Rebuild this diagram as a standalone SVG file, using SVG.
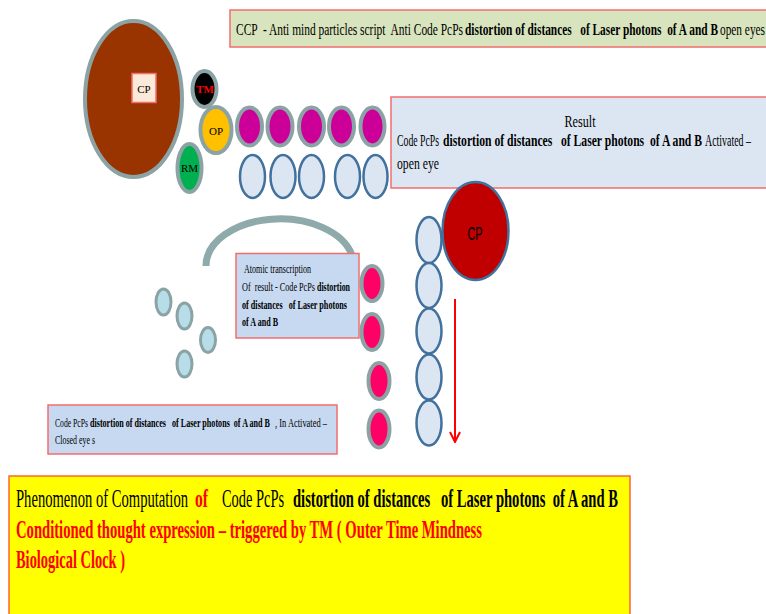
<svg xmlns="http://www.w3.org/2000/svg" width="766" height="614" viewBox="0 0 766 614">
<defs>
<style>
.t{font-family:"Liberation Serif","Times New Roman",serif;fill:#000;white-space:pre}
.b{font-weight:bold}
.red{fill:#ff0000}
.box{stroke:#f26d6d;stroke-width:1.5}
.gray{stroke:#8ca3a5;stroke-width:4}
.blue{fill:#dce6f2;stroke:#41719c;stroke-width:2.5}
.mag{fill:#cc0099;stroke:#8ca3a5;stroke-width:4}
.pink{fill:#ff0066;stroke:#8ca3a5;stroke-width:4}
.teal{fill:#b7dee8;stroke:#8ca3a5;stroke-width:3}
</style>
<marker id="arr" markerWidth="14" markerHeight="12" refX="13" refY="6" orient="auto" markerUnits="userSpaceOnUse" viewBox="0 0 14 12">
<path d="M3,1 L13,6 L3,11" fill="none" stroke="#ff0000" stroke-width="2"/>
</marker>
</defs>
<rect width="766" height="614" fill="#ffffff"/>

<g id="connectors">
<path d="M206,266 A74,47 0 0 1 352,255" fill="none" stroke="#8faaab" stroke-width="7"/>
<line x1="455" y1="299" x2="455" y2="442" stroke="#ff0000" stroke-width="2" marker-end="url(#arr)"/>
</g>

<g id="ccp-box">
<rect class="box" x="230" y="10" width="545" height="37" fill="#d7e4bd"/>
<text class="t" x="236" y="35" font-size="16.5" textLength="227" lengthAdjust="spacingAndGlyphs">CCP  - Anti mind particles script  Anti Code PcPs</text>
<text class="t b" x="465" y="35" font-size="16.5" textLength="253" lengthAdjust="spacingAndGlyphs">distortion of distances   of Laser photons  of A and B</text>
<text class="t" x="720" y="35" font-size="16.5" textLength="45" lengthAdjust="spacingAndGlyphs">open eyes</text>
</g>

<g id="cp-big">
<ellipse class="gray" cx="133.5" cy="99" rx="48.5" ry="78" fill="#993300"/>
<rect x="132" y="73.5" width="24" height="29" fill="#fde9d9" stroke="#f26d6d" stroke-width="1.5"/>
<text class="t" x="144" y="93" font-size="11" text-anchor="middle">CP</text>
</g>

<g id="tm">
<ellipse class="gray" cx="204.5" cy="89" rx="12" ry="18" fill="#000000"/>
<text class="t b red" x="205" y="93" font-size="11" text-anchor="middle">TM</text>
</g>

<g id="op">
<ellipse class="gray" cx="216" cy="130" rx="15.5" ry="23" fill="#ffc000"/>
<text class="t" x="216" y="135" font-size="11" text-anchor="middle">OP</text>
</g>

<g id="rm">
<ellipse class="gray" cx="189.5" cy="168" rx="12" ry="24" fill="#00b050"/>
<text class="t" x="189.5" y="172" font-size="11" text-anchor="middle">RM</text>
</g>

<g id="magenta-row">
<ellipse class="mag" cx="249.5" cy="126.5" rx="12.5" ry="19"/>
<ellipse class="mag" cx="280" cy="126.5" rx="12.5" ry="19"/>
<ellipse class="mag" cx="311.5" cy="126.5" rx="12.5" ry="19"/>
<ellipse class="mag" cx="341.5" cy="126.5" rx="12.5" ry="19"/>
<ellipse class="mag" cx="372.5" cy="126.5" rx="12" ry="19"/>
</g>

<g id="blue-row">
<ellipse class="blue" cx="252.5" cy="176.5" rx="12.5" ry="21.5"/>
<ellipse class="blue" cx="283" cy="176.5" rx="12.5" ry="21.5"/>
<ellipse class="blue" cx="311.5" cy="176.5" rx="12.5" ry="21.5"/>
<ellipse class="blue" cx="347.5" cy="176.5" rx="12.5" ry="21.5"/>
<ellipse class="blue" cx="375.5" cy="176.5" rx="12" ry="21.5"/>
</g>

<g id="result-box">
<rect class="box" x="391" y="97" width="385" height="91" fill="#dce6f2"/>
<text class="t" x="580" y="127" font-size="16" text-anchor="middle" textLength="31" lengthAdjust="spacingAndGlyphs">Result</text>
<text class="t" x="397" y="146" font-size="16" textLength="42" lengthAdjust="spacingAndGlyphs">Code PcPs</text>
<text class="t b" x="443" y="146" font-size="16" textLength="259" lengthAdjust="spacingAndGlyphs">distortion of distances   of Laser photons  of A and B</text>
<text class="t" x="705" y="146" font-size="16" textLength="46" lengthAdjust="spacingAndGlyphs">Activated –</text>
<text class="t" x="397" y="169" font-size="16" textLength="42" lengthAdjust="spacingAndGlyphs">open eye</text>
</g>

<g id="cp-red">
<ellipse cx="475.5" cy="231" rx="33" ry="49" fill="#c00000" stroke="#41719c" stroke-width="2.5"/>
<text x="475" y="240" font-family="Liberation Sans Narrow,Liberation Sans,Arial,sans-serif" font-size="19" text-anchor="middle" textLength="15" lengthAdjust="spacingAndGlyphs" fill="#000">CP</text>
</g>

<g id="vertical-chain">
<ellipse class="blue" cx="429" cy="240" rx="12.5" ry="23"/>
<ellipse class="blue" cx="429" cy="285.5" rx="12.5" ry="22.5"/>
<ellipse class="blue" cx="429" cy="331" rx="12.5" ry="22.5"/>
<ellipse class="blue" cx="429" cy="377" rx="12.5" ry="22.5"/>
<ellipse class="blue" cx="429" cy="423" rx="12.5" ry="22.5"/>
</g>

<g id="teal-particles">
<ellipse class="teal" cx="163.5" cy="302" rx="7.5" ry="13"/>
<ellipse class="teal" cx="184.5" cy="316" rx="7.5" ry="13"/>
<ellipse class="teal" cx="208" cy="340" rx="7.5" ry="12.5"/>
<ellipse class="teal" cx="184.5" cy="364" rx="7.5" ry="13"/>
</g>

<g id="atomic-box">
<rect class="box" x="236" y="253.5" width="123" height="84.5" fill="#c6d9f1"/>
<text class="t" x="244" y="273" font-size="13" textLength="67" lengthAdjust="spacingAndGlyphs">Atomic transcription</text>
<text class="t" x="242" y="291" font-size="13" textLength="73" lengthAdjust="spacingAndGlyphs">Of  result - Code PcPs</text>
<text class="t b" x="317" y="291" font-size="13" textLength="33" lengthAdjust="spacingAndGlyphs">distortion</text>
<text class="t b" x="242" y="309" font-size="13" textLength="105" lengthAdjust="spacingAndGlyphs">of distances   of Laser photons</text>
<text class="t b" x="242" y="326" font-size="13" textLength="36" lengthAdjust="spacingAndGlyphs">of A and B</text>
</g>

<g id="pink-column">
<ellipse class="pink" cx="372" cy="283.5" rx="10.5" ry="17.5"/>
<ellipse class="pink" cx="372" cy="332" rx="10.5" ry="18"/>
<ellipse class="pink" cx="379" cy="381" rx="10.5" ry="18"/>
<ellipse class="pink" cx="379" cy="429" rx="10.5" ry="18.5"/>
</g>

<g id="closed-box">
<rect class="box" x="48" y="405" width="289" height="49" fill="#c6d9f1"/>
<text class="t" x="55" y="427" font-size="12" textLength="33" lengthAdjust="spacingAndGlyphs">Code PcPs</text>
<text class="t b" x="90" y="427" font-size="12" textLength="180" lengthAdjust="spacingAndGlyphs">distortion of distances   of Laser photons  of A and B</text>
<text class="t" x="275" y="427" font-size="12" textLength="52" lengthAdjust="spacingAndGlyphs">, In Activated –</text>
<text class="t" x="55" y="444" font-size="12" textLength="40" lengthAdjust="spacingAndGlyphs">Closed eye s</text>
</g>

<g id="phenomenon-box">
<rect x="9" y="476" width="621" height="145" fill="#ffff00" stroke="#ff6633" stroke-width="1.5"/>
<text class="t" x="16" y="507" font-size="25" textLength="172" lengthAdjust="spacingAndGlyphs">Phenomenon of Computation</text>
<text class="t b red" x="195" y="507" font-size="25" textLength="13" lengthAdjust="spacingAndGlyphs">of</text>
<text class="t" x="222" y="507" font-size="25" textLength="62" lengthAdjust="spacingAndGlyphs">Code PcPs</text>
<text class="t b" x="293" y="507" font-size="25" textLength="325" lengthAdjust="spacingAndGlyphs">distortion of distances   of Laser photons  of A and B</text>
<text class="t b red" x="16" y="538" font-size="25" textLength="466" lengthAdjust="spacingAndGlyphs">Conditioned thought expression – triggered by TM ( Outer Time Mindness</text>
<text class="t b red" x="16" y="568" font-size="25" textLength="109" lengthAdjust="spacingAndGlyphs">Biological Clock )</text>
</g>
</svg>
